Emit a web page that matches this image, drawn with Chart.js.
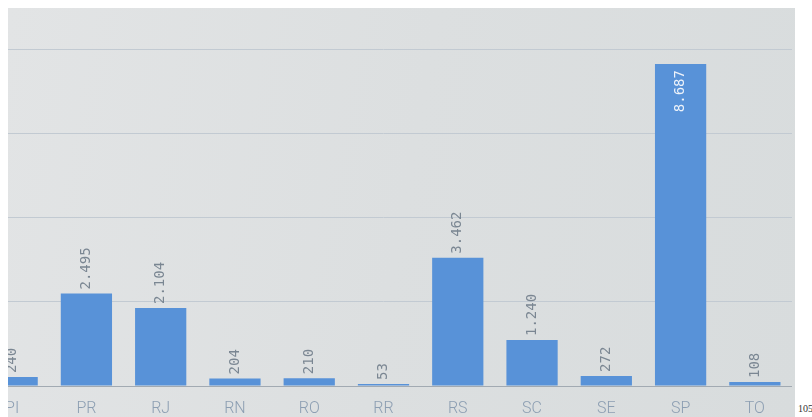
<!DOCTYPE html>
<html lang="pt-BR">
<head>
    <meta charset="UTF-8">
    <title>Estados</title>
    <script src="https://cdn.jsdelivr.net/npm/chart.js"></script>
    <style>
        body {
            margin: 0;
            background: #ffffff;
            width: 812px;
            height: 417px;
            position: relative;
            overflow: hidden;
        }

        .panel {
            position: absolute;
            left: 8px;
            top: 8px;
            width: 787px;
            height: 409px;
            background: linear-gradient(100deg, #e2e4e5 0%, #dcdfe0 50%, #d8dcdd 100%);
            overflow: hidden;
        }

        .chart-box {
            position: absolute;
            left: -33px;
            top: 0;
            width: 817px;
            height: 409px;
        }

        .page-num {
            position: absolute;
            left: 798px;
            top: 403px;
            white-space: nowrap;
            font-family: "Liberation Serif", serif;
            font-size: 10px;
            color: #333;
        }
    </style>
</head>
<body>

    <div class="panel">
        <div class="chart-box">
            <canvas id="barChart"></canvas>
        </div>
    </div>
    <div class="page-num">105</div>

    <script>
        var estados = ['PI', 'PR', 'RJ', 'RN', 'RO', 'RR', 'RS', 'SC', 'SE', 'SP', 'TO'];
        var totais = [240, 2495, 2104, 204, 210, 53, 3462, 1240, 272, 8687, 108];
        var gridTicks = [0, 2270, 4540, 6810, 9080];

        function formatNum(v) {
            return String(v).replace(/\B(?=(\d{3})+(?!\d))/g, '.');
        }

        // value labels, rotated, above the bar or inside when it would pass the top grid line
        var barLabels = {
            id: 'barLabels',
            afterDatasetsDraw: function (chart) {
                var ctx = chart.ctx;
                var meta = chart.getDatasetMeta(0);
                var limit = chart.scales.y.getPixelForValue(gridTicks[gridTicks.length - 1]);
                ctx.save();
                ctx.font = '14px "DejaVu Sans Mono", monospace';
                ctx.textBaseline = 'middle';
                meta.data.forEach(function (bar, i) {
                    var txt = formatNum(totais[i]);
                    var w = ctx.measureText(txt).width;
                    ctx.save();
                    ctx.translate(bar.x, bar.y);
                    ctx.rotate(-Math.PI / 2);
                    if (bar.y - 4 - w < limit) {
                        ctx.fillStyle = '#eef3fa';
                        ctx.textAlign = 'right';
                        ctx.fillText(txt, -6, 0);
                    } else {
                        ctx.fillStyle = '#7a8692';
                        ctx.textAlign = 'left';
                        ctx.fillText(txt, 4, 0);
                    }
                    ctx.restore();
                });
                ctx.restore();
            }
        };

        new Chart(document.getElementById('barChart'), {
            type: 'bar',
            data: {
                labels: estados,
                datasets: [{
                    data: totais,
                    backgroundColor: '#5892d8',
                    borderWidth: 0,
                    barPercentage: 0.69,
                    categoryPercentage: 1
                }]
            },
            options: {
                responsive: true,
                maintainAspectRatio: false,
                animation: false,
                layout: { padding: 0 },
                plugins: {
                    legend: { display: false },
                    tooltip: { enabled: false }
                },
                scales: {
                    x: {
                        grid: { display: false, drawTicks: false },
                        border: { display: true, color: '#a2aab2', width: 1 },
                        ticks: {
                            padding: 13,
                            color: '#8c9eb2',
                            font: { family: 'Roboto', size: 16, weight: '300' }
                        },
                        afterFit: function (scale) { scale.height = 31; }
                    },
                    y: {
                        min: 0,
                        max: 10200,
                        afterBuildTicks: function (scale) {
                            scale.ticks = gridTicks.map(function (v) { return { value: v }; });
                        },
                        grid: {
                            color: '#c2cad2',
                            lineWidth: 1,
                            drawTicks: false
                        },
                        border: { display: false },
                        ticks: { display: false },
                        afterFit: function (scale) { scale.width = 0; }
                    }
                }
            },
            plugins: [barLabels]
        });
    </script>
</body>
</html>
